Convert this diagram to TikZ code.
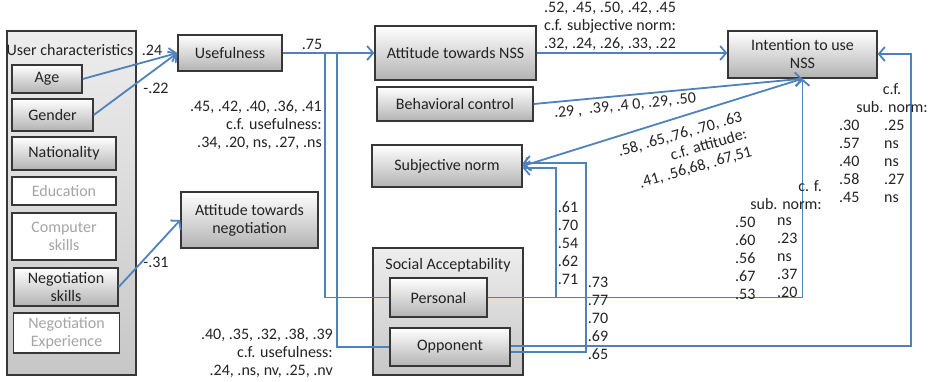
\documentclass[tikz,border=0pt]{standalone}
\usepackage{fontspec}
\setmainfont{Carlito}
\usetikzlibrary{arrows.meta}

\definecolor{pathblue}{RGB}{79,129,189}
\definecolor{framegray}{RGB}{55,55,55}
\definecolor{fadegray}{RGB}{165,165,165}
\definecolor{inkgray}{RGB}{35,35,35}

\begin{document}
\begin{tikzpicture}[x=1pt, y=-1pt,
  font=\fontsize{16}{18}\selectfont, text=inkgray,
  box/.style={draw=framegray, line width=1.4pt, top color=white, bottom color=black!30, align=center, inner sep=2pt},
  dimbox/.style={draw=framegray, line width=1.4pt, fill=white, text=fadegray, align=center, inner sep=2pt},
  grp/.style={draw=framegray, line width=1.4pt, top color=black!7, bottom color=black!22},
  arr/.style={draw=pathblue, line width=1.8pt, -{Straight Barb[length=6pt,width=14pt]}},
  ln/.style={draw=pathblue, line width=1.8pt},
  lbl/.style={inner sep=0pt, align=center}]
\useasboundingbox (0,0) rectangle (938,381);

% groups
\node[grp, minimum width=129, minimum height=344] (usrchar) at (71.5,203) {};
\node[lbl] (usrtitle) at (70,50) {User characteristics};
\node[grp, minimum width=150, minimum height=127] (social) at (448,311.5) {};
\node[lbl] (soctitle) at (448,265) {Social Acceptability};

% user characteristics
\node[box, minimum width=70, minimum height=28] (age) at (47,79) {Age};
\node[box, minimum width=81, minimum height=32] (gender) at (52.5,115) {Gender};
\node[box, minimum width=104, minimum height=33] (nation) at (64,153.5) {Nationality};
\node[dimbox, minimum width=104, minimum height=28] (edu) at (64,191) {Education};
\node[dimbox, minimum width=104, minimum height=47] (comp) at (64,236.5) {Computer\\skills};
\node[box, minimum width=104, minimum height=38] (negskill) at (66,287) {Negotiation\\skills};
\node[dimbox, minimum width=106, minimum height=40] (negexp) at (66.5,333) {Negotiation\\Experience};

% constructs
\node[box, minimum width=104, minimum height=36] (useful) at (230,53) {Usefulness};
\node[box, minimum width=137, minimum height=56] (attneg) at (249.5,220) {Attitude towards\\negotiation};
\node[box, minimum width=161, minimum height=54] (attnss) at (455.5,53) {Attitude towards NSS};
\node[box, minimum width=156, minimum height=34] (behav) at (455,104) {Behavioral control};
\node[box, minimum width=150, minimum height=42] (subj) at (447,166) {Subjective norm};
\node[box, minimum width=149, minimum height=47] (intent) at (802.5,54.5) {Intention to use\\NSS};
\node[box, minimum width=97, minimum height=39] (personal) at (438.5,297.5) {Personal};
\node[box, minimum width=120, minimum height=38] (opponent) at (450,347) {Opponent};

% junctions
\coordinate (j1) at (325,53);
\coordinate (j2) at (337,53);
\coordinate (p1) at (556,168);
\coordinate (o1) at (586,163);
\coordinate (o2) at (911,54);

% paths
\draw[arr] (age.east) -- (useful.west);
\draw[arr] (gender.east) -- (useful.west);
\draw[arr] (negskill.east) -- (attneg.west);
\draw[arr] (useful.east) -- (attnss.west);
\draw[ln] (personal.west) -| (j1);
\draw[ln] (opponent.west) -| (j2);
\draw[arr] (attnss.east) -- (attnss.east -| intent.west);
\draw[arr] (behav.east) -- (intent.south);
\draw[arr, {Straight Barb[length=6pt,width=14pt]}-] (subj.east) -- (intent.south);
\draw[arr] (personal.east) -| (intent.south);
\draw[arr] (personal.east) -| (p1) -- (p1 -| subj.east);
\draw[arr] ([yshift=-5pt]opponent.east) -| (o1) -- (o1 -| subj.east);
\draw[arr] ([yshift=1pt]opponent.east) -| (o2) -- (o2 -| intent.east);

% coefficients
\node[lbl] (c24) at (152,50) {.24};
\node[lbl] (c22) at (156,88) {-.22};
\node[lbl] (c31) at (156,262) {-.31};
\node[lbl] (c75) at (312,44) {.75};
\node[lbl, anchor=east, align=right] (cuse) at (322,125) {.45, .42, .40, .36, .41\\c.f. usefulness:\\.34, .20, ns, .27, .ns};
\node[lbl, anchor=east, align=right] (copp) at (333,353) {.40, .35, .32, .38, .39\\c.f. usefulness:\\.24, .ns, nv, .25, .nv};
\node[lbl] (catt) at (610,26) {.52, .45, .50, .42, .45\\c.f. subjective norm:\\.32, .24, .26, .33, .22};
\node[lbl, rotate=6] (cbeh) at (625,106) {.29 ,\ \ .39, .4 0, .29, .50};
\node[lbl, rotate=16, align=right] (csub) at (685,152) {.58, .65,.76, .70, .63\\c.f. attitude:\\.41, .56,68, .67,51};
\node[lbl, align=left] (cpsub) at (568,243.5) {.61\\.70\\.54\\.62\\.71};
\node[lbl, align=left] (cpint) at (598,318) {.73\\.77\\.70\\.69\\.65};
\node[lbl, anchor=east, align=right] (cfa) at (822,195) {c. f.\\sub. norm:};
\node[lbl, anchor=west, align=left] (cfa1) at (735,258) {.50\\.60\\.56\\.67\\.53};
\node[lbl, anchor=west, align=left] (cfa2) at (777,258) {ns\\.23\\ns\\.37\\.20};
\node[lbl] (cfb) at (892,98) {c.f.\\sub. norm:};
\node[lbl, anchor=west, align=left] (cfb1) at (839,161) {.30\\.57\\.40\\.58\\.45};
\node[lbl, anchor=west, align=left] (cfb2) at (884,161) {.25\\ns\\ns\\.27\\ns};
\end{tikzpicture}
\end{document}
